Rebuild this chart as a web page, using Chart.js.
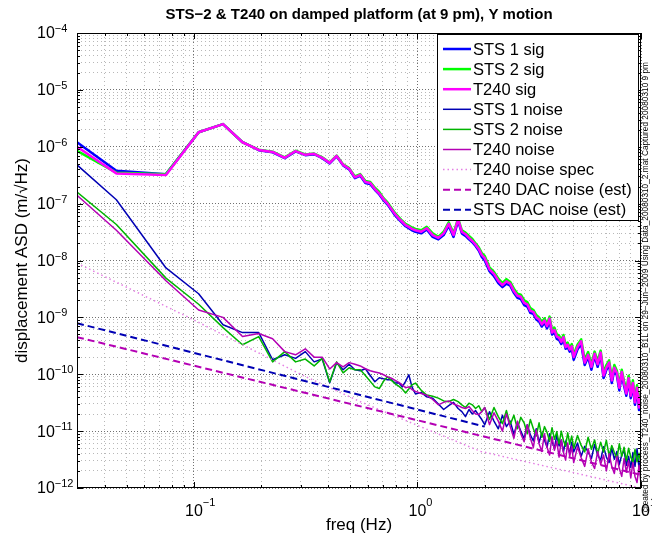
<!DOCTYPE html>
<html>
<head>
<meta charset="utf-8">
<title>STS-2 & T240 on damped platform</title>
<script src="https://cdn.jsdelivr.net/npm/chart.js@4.4.1/dist/chart.umd.min.js"></script>
<style>
  html, body { margin: 0; padding: 0; background: #fff; }
  #wrap { width: 652px; height: 537px; }
</style>
</head>
<body>
<div id="wrap"><canvas id="chart" width="652" height="537"></canvas></div>
<script>
// frequency bins (Hz), shared by the six measured spectra
const freq = [
  0.03, 0.045, 0.075, 0.105, 0.135, 0.165, 0.195, 0.225, 0.255, 0.285, 0.315, 0.345, 0.375, 0.405, 0.435, 0.465,
  0.495, 0.525, 0.555, 0.585, 0.615, 0.645, 0.675, 0.705, 0.735, 0.765, 0.795, 0.825, 0.855, 0.885, 0.915, 0.945,
  0.98, 1.04, 1.1, 1.17, 1.24, 1.31, 1.38, 1.45, 1.52, 1.58, 1.64, 1.7, 1.76, 1.82, 1.88, 1.94,
  2.0, 2.1, 2.2, 2.3, 2.4, 2.5, 2.6, 2.7, 2.8, 2.9, 3.0, 3.1, 3.2, 3.3, 3.4, 3.5, 3.6, 3.7, 3.8, 3.9,
  4.0, 4.1, 4.2, 4.3, 4.4, 4.5, 4.6, 4.7, 4.8, 4.9,
  5.0, 5.2, 5.4, 5.6, 5.8, 6.0, 6.2, 6.4, 6.6, 6.8, 7.0, 7.2, 7.4, 7.6, 7.8, 8.0, 8.2, 8.4, 8.6, 8.8,
  9.0, 9.2, 9.4, 9.6, 9.8, 10.0
];

const sts1Sig = [
  1.2e-6, 3.8e-7, 3.3e-7, 1.8e-6, 2.5e-6, 1.2e-6, 8.7e-7, 8.0e-7, 6.3e-7, 8.3e-7, 7.1e-7, 7.4e-7, 6.3e-7, 5.1e-7, 6.8e-7, 4.7e-7,
  4.0e-7, 2.8e-7, 3.1e-7, 2.3e-7, 2.2e-7, 1.75e-7, 1.45e-7, 1.15e-7, 9.6e-8, 7.7e-8, 6.2e-8, 5.3e-8, 4.6e-8, 4.0e-8, 3.7e-8, 3.4e-8,
  3.2e-8, 3.0e-8, 3.5e-8, 2.6e-8, 2.35e-8, 2.8e-8, 4.1e-8, 2.6e-8, 5.0e-8, 3.0e-8, 2.7e-8, 2.35e-8, 2.1e-8, 1.8e-8, 1.5e-8, 1.15e-8,
  1.0e-8, 6.5e-9, 5.3e-9, 4.0e-9, 3.4e-9, 3.9e-9, 3.6e-9, 2.7e-9, 2.2e-9, 2.1e-9, 1.65e-9, 1.55e-9, 1.2e-9, 1.15e-9, 9.2e-10, 8.5e-10,
  6.9e-10, 8.1e-10, 6.4e-10, 8.7e-10, 5.0e-10, 5.5e-10, 4.2e-10, 4.0e-10, 3.4e-10, 4.1e-10, 2.8e-10, 3.0e-10, 2.5e-10, 2.8e-10,
  1.8e-10, 2.75e-10, 3.4e-10, 1.45e-10, 2.0e-10, 1.2e-10, 2.1e-10, 1.35e-10, 2.2e-10, 8.6e-11, 1.2e-10, 1.45e-10, 7.0e-11, 1.2e-10,
  9.5e-11, 5.2e-11, 1.0e-10, 6.2e-11, 4.2e-11, 7.8e-11, 3.8e-11, 6.3e-11, 2.9e-11, 5.3e-11, 2.35e-11, 4.2e-11
];
const sts2Sig = [
  8.5e-7, 3.5e-7, 3.3e-7, 1.8e-6, 2.5e-6, 1.2e-6, 8.9e-7, 8.2e-7, 6.5e-7, 8.5e-7, 7.3e-7, 7.6e-7, 6.5e-7, 5.3e-7, 7.0e-7, 4.9e-7,
  4.2e-7, 3.0e-7, 3.3e-7, 2.5e-7, 2.4e-7, 1.9e-7, 1.6e-7, 1.25e-7, 1.05e-7, 8.4e-8, 6.8e-8, 5.8e-8, 5.0e-8, 4.4e-8, 4.1e-8, 3.8e-8,
  3.6e-8, 3.4e-8, 3.9e-8, 3.0e-8, 2.6e-8, 3.2e-8, 4.7e-8, 3.0e-8, 5.5e-8, 3.4e-8, 3.1e-8, 2.7e-8, 2.4e-8, 2.0e-8, 1.7e-8, 1.35e-8,
  1.2e-8, 7.6e-9, 6.3e-9, 4.8e-9, 4.0e-9, 4.7e-9, 4.2e-9, 3.2e-9, 2.6e-9, 2.5e-9, 2.0e-9, 1.85e-9, 1.45e-9, 1.35e-9, 1.1e-9, 1.0e-9,
  8.2e-10, 9.6e-10, 7.6e-10, 1.03e-9, 5.9e-10, 6.6e-10, 5.0e-10, 4.8e-10, 4.0e-10, 4.9e-10, 3.3e-10, 3.6e-10, 2.9e-10, 3.4e-10,
  2.2e-10, 3.3e-10, 4.1e-10, 1.8e-10, 2.45e-10, 1.5e-10, 2.5e-10, 1.7e-10, 2.6e-10, 1.08e-10, 1.45e-10, 1.75e-10, 8.8e-11, 1.45e-10,
  1.15e-10, 6.5e-11, 1.2e-10, 7.6e-11, 5.2e-11, 9.4e-11, 4.8e-11, 7.8e-11, 3.7e-11, 6.4e-11, 3.0e-11, 5.1e-11
];
const t240Sig = [
  1.0e-6, 3.4e-7, 3.2e-7, 1.8e-6, 2.5e-6, 1.2e-6, 8.8e-7, 8.1e-7, 6.4e-7, 8.4e-7, 7.2e-7, 7.5e-7, 6.4e-7, 5.2e-7, 6.9e-7, 4.8e-7,
  4.1e-7, 2.9e-7, 3.2e-7, 2.4e-7, 2.3e-7, 1.8e-7, 1.5e-7, 1.2e-7, 1.0e-7, 8.0e-8, 6.5e-8, 5.5e-8, 4.8e-8, 4.2e-8, 3.9e-8, 3.6e-8,
  3.4e-8, 3.2e-8, 3.7e-8, 2.8e-8, 2.5e-8, 3.0e-8, 4.4e-8, 2.8e-8, 5.3e-8, 3.2e-8, 2.9e-8, 2.5e-8, 2.2e-8, 1.9e-8, 1.6e-8, 1.25e-8,
  1.1e-8, 7.0e-9, 5.8e-9, 4.4e-9, 3.7e-9, 4.3e-9, 3.9e-9, 2.9e-9, 2.4e-9, 2.3e-9, 1.8e-9, 1.7e-9, 1.3e-9, 1.25e-9, 1.0e-9, 9.2e-10,
  7.5e-10, 8.8e-10, 7.0e-10, 9.5e-10, 5.4e-10, 6.0e-10, 4.6e-10, 4.4e-10, 3.7e-10, 4.5e-10, 3.0e-10, 3.3e-10, 2.7e-10, 3.1e-10,
  2.0e-10, 3.0e-10, 3.8e-10, 1.6e-10, 2.2e-10, 1.35e-10, 2.3e-10, 1.5e-10, 2.4e-10, 9.5e-11, 1.3e-10, 1.6e-10, 7.8e-11, 1.3e-10,
  1.05e-10, 5.8e-11, 1.1e-10, 6.8e-11, 4.6e-11, 8.5e-11, 4.2e-11, 7.0e-11, 3.2e-11, 5.8e-11, 2.6e-11, 4.6e-11
];

const sts1Noise = [
  4.8e-7, 1.17e-7, 7.4e-9, 2.6e-9, 7.4e-10, 5.4e-10, 5.4e-10, 1.8e-10, 2.2e-10, 1.9e-10, 2.5e-10, 1.65e-10, 1.85e-10, 7.1e-11, 1.6e-10, 1.2e-10,
  1.5e-10, 1.2e-10, 1.15e-10, 1.25e-10, 9.5e-11, 7.4e-11, 8.7e-11, 8.3e-11, 8.0e-11, 8.0e-11, 7.0e-11, 7.1e-11, 6.0e-11, 7.5e-11, 9.8e-11, 6.0e-11,
  4.5e-11, 4.8e-11, 4.0e-11, 3.8e-11, 3.0e-11, 2.4e-11, 2.8e-11, 3.2e-11, 2.5e-11, 2.2e-11, 1.8e-11, 2.4e-11, 2.0e-11, 2.3e-11, 1.9e-11, 1.6e-11,
  1.3e-11, 2.2e-11, 1.5e-11, 1.1e-11, 1.9e-11, 1.2e-11, 1.5e-11, 8.8e-12, 1.4e-11, 1.0e-11, 7.4e-12, 1.3e-11, 8.6e-12, 6.7e-12, 1.1e-11, 6.3e-12,
  9.3e-12, 7.0e-12, 5.2e-12, 9.0e-12, 6.6e-12, 5.0e-12, 8.5e-12, 5.5e-12, 7.0e-12, 4.3e-12, 6.7e-12, 5.2e-12, 4.1e-12, 6.4e-12,
  4.3e-12, 6.2e-12, 3.6e-12, 5.4e-12, 4.3e-12, 3.3e-12, 5.8e-12, 3.8e-12, 3.1e-12, 5.3e-12, 3.5e-12, 2.8e-12, 5.0e-12, 3.2e-12,
  4.4e-12, 2.6e-12, 3.8e-12, 4.6e-12, 2.5e-12, 3.6e-12, 2.3e-12, 4.2e-12, 2.4e-12, 4.9e-12, 2.2e-12, 3.5e-12
];
const sts2Noise = [
  1.6e-7, 4.3e-8, 4.9e-9, 1.7e-9, 6.6e-10, 3.3e-10, 4.6e-10, 1.65e-10, 2.5e-10, 1.65e-10, 1.85e-10, 1.4e-10, 1.9e-10, 7.3e-11, 1.65e-10, 1.06e-10,
  1.3e-10, 1.2e-10, 1.2e-10, 9.5e-11, 7.5e-11, 6.0e-11, 5.6e-11, 7.5e-11, 9.0e-11, 7.8e-11, 6.8e-11, 6.2e-11, 5.5e-11, 4.7e-11, 5.5e-11, 6.5e-11,
  7.0e-11, 5.2e-11, 4.3e-11, 4.1e-11, 3.8e-11, 3.4e-11, 3.3e-11, 3.6e-11, 3.3e-11, 2.9e-11, 2.6e-11, 3.1e-11, 2.9e-11, 2.5e-11, 2.8e-11, 2.2e-11,
  2.6e-11, 1.6e-11, 2.6e-11, 1.8e-11, 1.35e-11, 2.3e-11, 1.3e-11, 1.9e-11, 1.1e-11, 1.75e-11, 1.4e-11, 9.0e-12, 1.6e-11, 1.1e-11, 8.2e-12, 1.4e-11,
  7.8e-12, 1.2e-11, 9.5e-12, 6.6e-12, 1.15e-11, 7.2e-12, 9.8e-12, 6.0e-12, 1.0e-11, 6.8e-12, 5.4e-12, 9.4e-12, 5.9e-12, 8.2e-12,
  5.0e-12, 8.4e-12, 5.6e-12, 4.3e-12, 7.8e-12, 4.8e-12, 7.0e-12, 4.0e-12, 6.4e-12, 4.3e-12, 6.9e-12, 3.7e-12, 5.6e-12, 4.2e-12,
  3.3e-12, 6.0e-12, 3.6e-12, 5.2e-12, 3.0e-12, 5.0e-12, 3.5e-12, 2.8e-12, 4.8e-12, 2.9e-12, 4.1e-12, 2.5e-12
];
const t240Noise = [
  1.4e-7, 3.4e-8, 4.4e-9, 1.35e-9, 1.0e-9, 4.6e-10, 5.2e-10, 4.2e-10, 2.5e-10, 2.2e-10, 2.8e-10, 2.0e-10, 2.0e-10, 1.24e-10, 1.6e-10, 1.35e-10,
  1.6e-10, 1.5e-10, 1.4e-10, 1.25e-10, 1.15e-10, 1.1e-10, 1.05e-10, 9.8e-11, 9.0e-11, 8.5e-11, 7.8e-11, 7.2e-11, 6.5e-11, 5.8e-11, 6.0e-11, 5.4e-11,
  5.0e-11, 4.6e-11, 4.3e-11, 3.6e-11, 2.9e-11, 3.2e-11, 3.4e-11, 3.0e-11, 2.8e-11, 2.6e-11, 2.5e-11, 2.7e-11, 2.3e-11, 2.0e-11, 1.95e-11, 2.2e-11,
  2.6e-11, 1.3e-11, 2.1e-11, 1.5e-11, 1.0e-11, 2.0e-11, 1.2e-11, 7.5e-12, 1.5e-11, 9.0e-12, 6.5e-12, 1.3e-11, 7.5e-12, 5.2e-12, 1.05e-11, 6.0e-12,
  4.4e-12, 9.0e-12, 5.2e-12, 3.8e-12, 8.0e-12, 4.6e-12, 6.6e-12, 3.5e-12, 7.0e-12, 4.2e-12, 3.1e-12, 6.2e-12, 3.6e-12, 5.4e-12,
  2.8e-12, 5.3e-12, 3.4e-12, 2.4e-12, 4.9e-12, 2.9e-12, 2.2e-12, 4.4e-12, 2.6e-12, 3.8e-12, 2.0e-12, 4.0e-12, 2.4e-12, 1.8e-12,
  3.6e-12, 2.2e-12, 1.6e-12, 3.3e-12, 1.9e-12, 3.0e-12, 1.5e-12, 2.8e-12, 1.6e-12, 1.25e-12, 2.5e-12, 1.2e-12
];

// reference curves (straight lines / spec model)
const specFreq = [0.03, 0.1, 0.3, 0.564, 1.12, 1.92, 10];
const t240Spec = [9e-9, 9e-10, 1.0e-10, 3.2e-11, 1.05e-11, 4.4e-12, 1.0e-12];
const t240DacFreq = [0.03, 10];
const t240Dac = [4.5e-10, 1.7e-12];
const stsDacFreq = [0.03, 2.0];
const stsDac = [7.9e-10, 1.2e-11];

// axis decades that get a 10^n label
const xTickExps = [-1, 0, 1];
const yTickExps = [-12, -11, -10, -9, -8, -7, -6, -5, -4];

const FONT = '"Liberation Sans", Arial, Helvetica, sans-serif';

const series = [
  { label: 'STS 1 sig', x: freq, y: sts1Sig, color: '#0000ff', width: 2.5, dash: [] },
  { label: 'STS 2 sig', x: freq, y: sts2Sig, color: '#00ff00', width: 2.5, dash: [] },
  { label: 'T240 sig', x: freq, y: t240Sig, color: '#ff00ff', width: 2.5, dash: [] },
  { label: 'STS 1 noise', x: freq, y: sts1Noise, color: '#0000b4', width: 1.5, dash: [] },
  { label: 'STS 2 noise', x: freq, y: sts2Noise, color: '#00b400', width: 1.5, dash: [] },
  { label: 'T240 noise', x: freq, y: t240Noise, color: '#b400b4', width: 1.5, dash: [] },
  { label: 'T240 noise spec', x: specFreq, y: t240Spec, color: '#e47fe4', width: 1.5, dash: [1.5, 3] },
  { label: 'T240 DAC noise (est)', x: t240DacFreq, y: t240Dac, color: '#b400b4', width: 2, dash: [7, 4] },
  { label: 'STS DAC noise (est)', x: stsDacFreq, y: stsDac, color: '#0000b4', width: 2, dash: [7, 4] }
];

function logTicks(min, max) {
  const out = [];
  for (let e = Math.floor(Math.log10(min)); e <= Math.ceil(Math.log10(max)); e++) {
    for (let m = 1; m < 10; m++) {
      const v = m * Math.pow(10, e);
      if (v >= min * 0.999 && v <= max * 1.001) out.push({ value: v, major: m === 1 });
    }
  }
  return out;
}

const gridColor = c => (c.tick && c.tick.major ? '#707070' : '#b8b8b8');
const gridDash = c => (c.tick && c.tick.major ? [1, 2] : [1, 3]);

// box, inward ticks, tick labels, titles
const frame = {
  id: 'frame',
  afterDatasetsDraw(chart) {
    const { ctx, chartArea: a, scales: { x, y } } = chart;
    ctx.save();
    ctx.strokeStyle = '#000';
    ctx.lineWidth = 1;
    ctx.setLineDash([]);
    ctx.beginPath();
    x.ticks.forEach(t => {
      const px = Math.round(x.getPixelForValue(t.value)) + 0.5;
      const len = t.major ? 6 : 3;
      ctx.moveTo(px, a.bottom); ctx.lineTo(px, a.bottom - len);
      ctx.moveTo(px, a.top); ctx.lineTo(px, a.top + len);
    });
    y.ticks.forEach(t => {
      const py = Math.round(y.getPixelForValue(t.value)) + 0.5;
      const len = t.major ? 6 : 3;
      ctx.moveTo(a.left, py); ctx.lineTo(a.left + len, py);
      ctx.moveTo(a.right, py); ctx.lineTo(a.right - len, py);
    });
    ctx.stroke();
    ctx.strokeRect(Math.round(a.left) + 0.5, Math.round(a.top) + 0.5,
      Math.round(a.right - a.left) - 1, Math.round(a.bottom - a.top) - 1);
    ctx.restore();
  },
  afterDraw(chart) {
    const { ctx, chartArea: a, scales: { x, y } } = chart;
    ctx.save();
    ctx.fillStyle = '#000';
    const base = '16px ' + FONT;
    const sup = '11px ' + FONT;

    // y labels
    yTickExps.forEach(e => {
      const py = y.getPixelForValue(Math.pow(10, e));
      const lx = 37;
      ctx.font = base;
      ctx.textAlign = 'left';
      ctx.textBaseline = 'middle';
      ctx.fillText('10', lx, py + 1);
      const w = ctx.measureText('10').width;
      ctx.font = sup;
      ctx.textBaseline = 'alphabetic';
      ctx.fillText('\u2212' + Math.abs(e), lx + w, py - 1);
    });

    // x labels
    xTickExps.forEach(e => {
      const px = x.getPixelForValue(Math.pow(10, e));
      ctx.font = base;
      const w = ctx.measureText('10').width;
      ctx.textAlign = 'left';
      ctx.textBaseline = 'middle';
      ctx.fillText('10', px - w / 2, 512);
      ctx.font = sup;
      ctx.textBaseline = 'alphabetic';
      ctx.fillText(e < 0 ? '\u2212' + Math.abs(e) : String(e), px + w / 2, 506);
    });

    // title and axis titles
    const cx = (a.left + a.right) / 2;
    ctx.textAlign = 'center';
    ctx.textBaseline = 'middle';
    ctx.font = 'bold 15px ' + FONT;
    ctx.fillText('STS\u22122 & T240 on damped platform (at 9 pm), Y motion', cx, 15);
    ctx.font = '17px ' + FONT;
    ctx.fillText('freq (Hz)', cx, 525);
    ctx.save();
    ctx.translate(22, (a.top + a.bottom) / 2);
    ctx.rotate(-Math.PI / 2);
    ctx.fillText('displacement ASD (m/\u221AHz)', 0, 0);
    ctx.restore();

    // provenance note along the right edge
    ctx.save();
    ctx.translate(646, 62);
    ctx.rotate(-Math.PI / 2);
    ctx.textAlign = 'right';
    ctx.font = '8.3px ' + FONT;
    ctx.fillText('created by process_T240_noise_20080310_B1L on 29\u2212Jun\u22122009 Using Data_20080310_2.mat Captured 20080310 9 pm', 0, 0);
    ctx.restore();

    // legend box
    const lx = 437, ly = 34, lw = 201, lh = 186;
    ctx.fillStyle = '#fff';
    ctx.fillRect(lx, ly, lw, lh);
    ctx.strokeStyle = '#000';
    ctx.lineWidth = 1;
    ctx.strokeRect(lx + 0.5, ly + 0.5, lw, lh);
    ctx.font = '16.5px ' + FONT;
    ctx.textAlign = 'left';
    ctx.textBaseline = 'middle';
    series.forEach((s, i) => {
      const ry = ly + 15 + i * 20.1;
      ctx.strokeStyle = s.color;
      ctx.lineWidth = s.width;
      ctx.setLineDash(s.dash);
      ctx.beginPath();
      ctx.moveTo(443, ry);
      ctx.lineTo(471, ry);
      ctx.stroke();
      ctx.fillStyle = '#000';
      ctx.fillText(s.label, 473, ry + 1);
    });
    ctx.restore();
  }
};

new Chart(document.getElementById('chart'), {
  type: 'line',
  data: {
    datasets: series.map((s, i) => ({
      label: s.label,
      data: s.x.map((f, k) => ({ x: f, y: s.y[k] })),
      borderColor: s.color,
      borderWidth: s.width,
      borderDash: s.dash,
      borderJoinStyle: 'round',
      pointRadius: 0,
      fill: false,
      tension: 0,
      order: series.length - 1 - i
    }))
  },
  options: {
    responsive: false,
    animation: false,
    devicePixelRatio: 1,
    layout: { padding: { left: 0, top: 33, right: 11, bottom: 0 } },
    plugins: { legend: { display: false }, tooltip: { enabled: false }, title: { display: false } },
    scales: {
      x: {
        type: 'logarithmic',
        min: 0.03,
        max: 10,
        afterBuildTicks: s => { s.ticks = logTicks(0.03, 10); },
        afterFit: s => { s.height = 49; },
        ticks: { display: false },
        grid: { drawTicks: false, color: gridColor, lineWidth: 1 },
        border: { display: false, dash: gridDash }
      },
      y: {
        type: 'logarithmic',
        min: 1e-12,
        max: 1e-4,
        afterBuildTicks: s => { s.ticks = logTicks(1e-12, 1e-4); },
        afterFit: s => { s.width = 77; },
        ticks: { display: false },
        grid: { drawTicks: false, color: gridColor, lineWidth: 1 },
        border: { display: false, dash: gridDash }
      }
    }
  },
  plugins: [frame]
});
</script>
</body>
</html>
